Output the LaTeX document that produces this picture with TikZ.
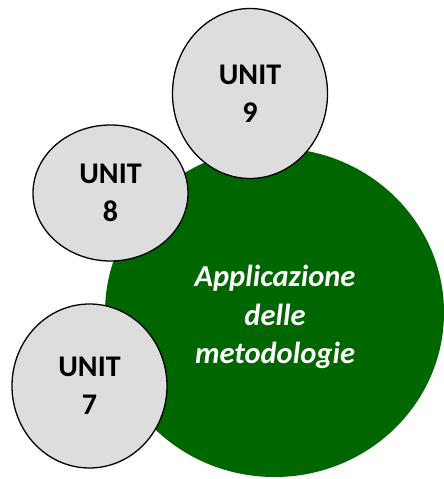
\documentclass[tikz,border=0pt]{standalone}
\usepackage{fontspec}
\setmainfont{Carlito}
\usetikzlibrary{shapes.geometric}
\definecolor{darkgreen}{HTML}{006600}
\definecolor{unitgray}{HTML}{DDDDDD}
\tikzset{
  unitbox/.style={ellipse, draw=black, line width=1.3pt, fill=unitgray, inner sep=0pt,
    align=center, font=\fontsize{30}{38}\selectfont\bfseries, minimum width=155pt},
  mainbox/.style={ellipse, fill=darkgreen, inner sep=0pt},
  maintextstyle/.style={text=white, align=center, font=\fontsize{30.5}{38.5}\selectfont\bfseries\itshape}
}
\begin{document}
\begin{tikzpicture}[x=1pt,y=-1pt]
\useasboundingbox (0,0) rectangle (444,479);
\node[mainbox, minimum width=339pt, minimum height=329pt] (main) at (274.5,312.5) {};
\node[maintextstyle] (maintext) at (275,317) {Applicazione\\delle\\metodologie};
\node[unitbox, minimum height=170pt] (u9) at (250,93.5) {UNIT\\9};
\node[unitbox, minimum height=136pt] (u8) at (110.5,193) {UNIT\\8};
\node[unitbox, minimum height=164pt] (u7) at (89.5,386) {UNIT\\7};
\end{tikzpicture}
\end{document}
